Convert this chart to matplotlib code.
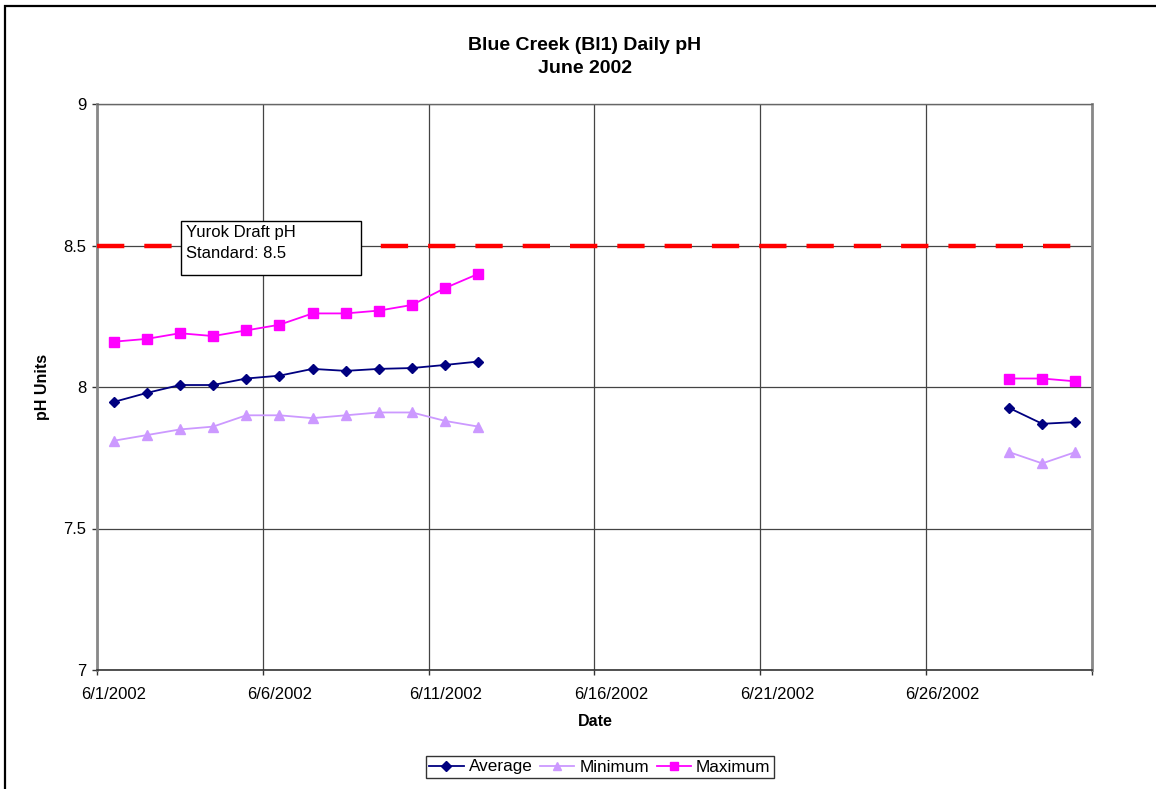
import datetime as dt
import numpy as np
import matplotlib
matplotlib.use("Agg")
import matplotlib.pyplot as plt
import matplotlib.dates as mdates
from matplotlib.patches import Rectangle

plt.rcParams['font.family'] = ['Liberation Sans', 'DejaVu Sans']

# Daily values for June 2002 (NaN = no data recorded)
nan = np.nan
days = [dt.datetime(2002, 6, d, 12) for d in range(1, 31)]
average = [7.947, 7.979, 8.007, 8.007, 8.030, 8.040, 8.064, 8.057, 8.064, 8.067,
           8.078, 8.090, nan, nan, nan, nan, nan, nan, nan, nan,
           nan, nan, nan, nan, nan, nan, nan, 7.926, 7.870, 7.876]
minimum = [7.81, 7.83, 7.85, 7.86, 7.90, 7.90, 7.89, 7.90, 7.91, 7.91,
           7.88, 7.86, nan, nan, nan, nan, nan, nan, nan, nan,
           nan, nan, nan, nan, nan, nan, nan, 7.77, 7.73, 7.77]
maximum = [8.16, 8.17, 8.19, 8.18, 8.20, 8.22, 8.26, 8.26, 8.27, 8.29,
           8.35, 8.40, nan, nan, nan, nan, nan, nan, nan, nan,
           nan, nan, nan, nan, nan, nan, nan, 8.03, 8.03, 8.02]
standard_value = 8.5
standard_span = [dt.datetime(2002, 6, 1), dt.datetime(2002, 6, 30, 12)]
x_start, x_end = dt.datetime(2002, 6, 1), dt.datetime(2002, 7, 1)
x_tick_dates = [dt.datetime(2002, 6, d) for d in (1, 6, 11, 16, 21, 26)] + [x_end]
x_label_dates = [dt.datetime(2002, 6, d, 12) for d in (1, 6, 11, 16, 21, 26)]
x_tick_labels = ['6/1/2002', '6/6/2002', '6/11/2002', '6/16/2002',
                 '6/21/2002', '6/26/2002']
y_ticks = [7, 7.5, 8, 8.5, 9]
y_labels = ['7', '7.5', '8', '8.5', '9']

W, H = 1156, 789
fig = plt.figure(figsize=(W / 100, H / 100), dpi=100)
fig.patch.set_facecolor('white')

def px(x, y):
    return x / W, 1 - y / H

# outer chart frame
fig.patches.append(Rectangle(px(5, 800), (W + 20) / W, (800 - 6) / H,
                             transform=fig.transFigure, fill=False,
                             edgecolor='black', linewidth=1.6, zorder=0))

left, top = px(97, 104)
right, bottom = px(1092, 670)
ax = fig.add_axes([left, bottom, right - left, top - bottom])

ax.set_xlim(x_start, x_end)
ax.set_ylim(7, 9)

ax.plot(standard_span, [standard_value, standard_value], color='#ff0000',
        linewidth=3.2, dashes=(27.3 * 0.72 / 3.2, 20 * 0.72 / 3.2),
        solid_capstyle='butt', dash_capstyle='butt', zorder=3)

ax.plot(days, minimum, color='#cc99ff', marker='^', markersize=7.5,
        linewidth=1.3, label='Minimum', zorder=4)
ax.plot(days, maximum, color='#ff00ff', marker='s', markersize=7,
        linewidth=1.3, label='Maximum', zorder=4)
ax.plot(days, average, color='#000080', marker='D', markersize=5.5,
        linewidth=1.3, label='Average', zorder=5)

# major ticks mark the day boundaries; labels sit at the middle of the day
ax.set_xticks(mdates.date2num(x_tick_dates))
ax.set_xticklabels([''] * len(x_tick_dates))
ax.set_xticks(mdates.date2num(x_label_dates), minor=True)
ax.set_xticklabels(x_tick_labels, minor=True)
ax.set_yticks(y_ticks)
ax.set_yticklabels(y_labels)

# gridlines on the major ticks only
ax.grid(True, which='major', color='#444444', linewidth=0.9)
ax.grid(False, which='minor')
ax.set_axisbelow(True)

ax.tick_params(axis='both', which='major', direction='out', length=3.6,
               width=1, color='#333333', labelsize=12, labelcolor='black')
ax.tick_params(axis='x', which='minor', length=0, pad=12.2, labelsize=12)
ax.tick_params(axis='y', pad=4)

for side in ['left', 'right']:
    ax.spines[side].set_color('#888888')
    ax.spines[side].set_linewidth(2)
ax.spines['bottom'].set_color('#333333')
ax.spines['bottom'].set_linewidth(1.2)
ax.spines['top'].set_color('#666666')
ax.spines['top'].set_linewidth(1)

ax.set_xlabel('Date', fontsize=11.5, fontweight='bold', labelpad=4)
ax.set_ylabel('pH Units', fontsize=11.5, fontweight='bold', labelpad=10)
ax.xaxis.set_label_coords(0.5, 0, transform=ax.transAxes)
ax.xaxis.label.set_position((0.5, 0))
fig.canvas.draw()
ax.xaxis.set_label_coords(*px(595, 722), transform=fig.transFigure)
ax.xaxis.label.set_verticalalignment('center')

tx, ty = px(585, 57)
fig.text(tx, ty, 'Blue Creek (Bl1) Daily pH\nJune 2002', ha='center',
         va='center', fontsize=14, fontweight='bold', linespacing=1.5)

# annotation box for the standard
bx0, by0 = px(181, 275)
bx1, by1 = px(361, 221)
fig.patches.append(Rectangle((bx0, by0), bx1 - bx0, by1 - by0,
                             transform=fig.transFigure, facecolor='white',
                             edgecolor='black', linewidth=1, zorder=6))
fig.text(*px(186, 243), 'Yurok Draft pH\nStandard: 8.5', ha='left',
         va='center', fontsize=12, linespacing=1.5, zorder=7)

handles, labels = ax.get_legend_handles_labels()
order = [labels.index(n) for n in ['Average', 'Minimum', 'Maximum']]
lx, ly = px(600, 767)
leg = fig.legend([handles[i] for i in order], [labels[i] for i in order],
                 loc='center', bbox_to_anchor=(lx, ly), ncol=3, frameon=True,
                 fancybox=False, edgecolor='black', fontsize=12.3,
                 handlelength=2.0, handletextpad=0.3, columnspacing=0.45,
                 borderpad=0.2, borderaxespad=0)
leg.get_frame().set_linewidth(1)
for h in leg.legend_handles:
    h.set_markersize(5.5)

fig.savefig('out.png', dpi=100, facecolor='white')
